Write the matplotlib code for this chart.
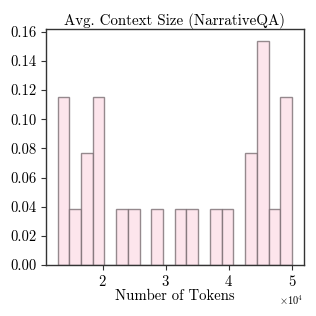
import numpy as np
import matplotlib
matplotlib.use("Agg")
import matplotlib.pyplot as plt

plt.rcParams['font.family'] = 'serif'
plt.rcParams['font.serif'] = ['cmr10']
plt.rcParams['mathtext.fontset'] = 'cm'
plt.rcParams['axes.formatter.use_mathtext'] = True
plt.rcParams['axes.unicode_minus'] = False

# Histogram of context sizes: 20 bins between min and max, counts per bin
x_min = 12820
x_max = 50000
counts = np.array([3, 1, 2, 3, 0, 1, 1, 0, 1, 0, 1, 1, 0, 1, 1, 0, 2, 4, 1, 3])
title = "Avg. Context Size (NarrativeQA)"
xlabel = "Number of Tokens"

edges = np.linspace(x_min, x_max, len(counts) + 1)
centers = (edges[:-1] + edges[1:]) / 2
weights = counts / counts.sum()

fs = 10.6
fig = plt.figure(figsize=(3.16, 3.16), dpi=100)
ax = fig.add_axes([0.145, 0.161, 0.816, 0.746])
ax.hist(centers, bins=edges, weights=weights, facecolor='#fde5ec',
        edgecolor=(0.45, 0.4, 0.42, 0.75), linewidth=1.0)
ax.margins(x=0.05, y=0.05)
ax.set_title(title, fontsize=10.8, pad=3.5)
ax.set_xlabel(xlabel, fontsize=fs, labelpad=0)
yt = np.arange(0, 0.17, 0.02)
ax.set_yticks(yt)
ax.set_yticklabels([f"{v:.2f}" for v in yt])
ax.ticklabel_format(axis='x', style='sci', scilimits=(4, 4), useMathText=True)
ax.tick_params(labelsize=fs, color='#333333', length=3.5, pad=3)
for s in ax.spines.values():
    s.set_color('#333333')
    s.set_linewidth(1.0)
ax.xaxis.get_offset_text().set_fontsize(7.5)

fig.savefig("out.png", dpi=100)
